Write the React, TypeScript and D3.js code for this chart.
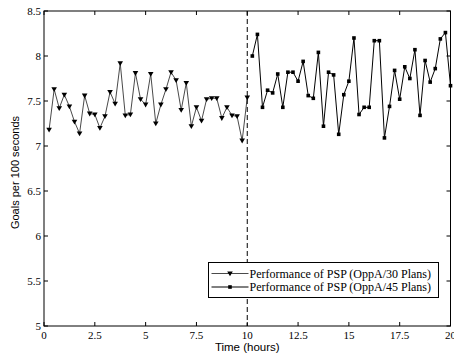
import React from "react";
import * as d3 from "d3";

const width = 454;
const height = 356;
const margin = { top: 11, right: 3, bottom: 30, left: 44 };

// Time axis (hours), one sample every quarter hour
const timesA = d3.range(1, 41).map(k => k * 0.25);
const timesB = d3.range(1, 41).map(k => 10 + k * 0.25);

// Goals per 100 seconds, OppA/30 Plans
const goals30 = [
  7.18, 7.63, 7.42, 7.57, 7.44, 7.27, 7.14, 7.56, 7.36, 7.35,
  7.2, 7.33, 7.6, 7.47, 7.92, 7.34, 7.35, 7.81, 7.52, 7.46,
  7.8, 7.25, 7.46, 7.63, 7.82, 7.73, 7.4, 7.7, 7.22, 7.43,
  7.28, 7.52, 7.53, 7.53, 7.31, 7.43, 7.34, 7.33, 7.06, 7.54
];

// Goals per 100 seconds, OppA/45 Plans
const goals45 = [
  8.0, 8.24, 7.43, 7.62, 7.59, 7.8, 7.43, 7.82, 7.82, 7.72,
  7.94, 7.56, 7.53, 8.04, 7.22, 7.82, 7.79, 7.13, 7.57, 7.72,
  8.2, 7.35, 7.43, 7.43, 8.17, 8.17, 7.09, 7.44, 7.84, 7.52,
  7.88, 7.75, 8.07, 7.34, 7.95, 7.71, 7.86, 8.19, 8.26, 7.67
];

const xTicks = [0, 2.5, 5, 7.5, 10, 12.5, 15, 17.5, 20];
const yTicks = [5, 5.5, 6, 6.5, 7, 7.5, 8, 8.5];
const legendLabels = [
  "Performance of PSP (OppA/30 Plans)",
  "Performance of PSP (OppA/45 Plans)"
];
const switchTime = 10;

const serif = "'Liberation Serif', 'Times New Roman', serif";
const sans = "'Liberation Sans', Arial, sans-serif";

export default function App() {
  const x = d3.scaleLinear().domain([0, 20]).range([margin.left, width - margin.right - 0.5]);
  const y = d3.scaleLinear().domain([5, 8.5]).range([height - margin.bottom, margin.top]);

  const line = d3
    .line<[number, number]>()
    .x(d => x(d[0]))
    .y(d => y(d[1]));

  const ptsA: [number, number][] = timesA.map((t, i) => [t, goals30[i]]);
  const ptsB: [number, number][] = timesB.map((t, i) => [t, goals45[i]]);

  const x0 = x(0);
  const x1 = x(20);
  const y0 = y(5);
  const y1 = y(8.5);
  const tick = 4;

  const tri = (cx: number, cy: number) =>
    `M${cx - 2.8},${cy - 2} L${cx + 2.8},${cy - 2} L${cx},${cy + 2.8} Z`;

  const lx = 208.5;
  const ly = 262.5;
  const lw = 230;
  const lh = 35;

  return (
    <div style={{ position: "absolute", left: 0, top: 0 }}>
      <svg width={width} height={height} style={{ display: "block", background: "#fff" }}>
        {/* series A */}
        <path d={line(ptsA) || ""} fill="none" stroke="#4a4a4a" strokeWidth={1} />
        {ptsA.map((p, i) => (
          <path key={"a" + i} d={tri(x(p[0]), y(p[1]))} fill="#000" />
        ))}

        {/* series B */}
        <path d={line(ptsB) || ""} fill="none" stroke="#000" strokeWidth={1} />
        {ptsB.map((p, i) => (
          <rect key={"b" + i} x={x(p[0]) - 1.8} y={y(p[1]) - 1.8} width={3.6} height={3.6} fill="#000" />
        ))}

        {/* switch marker */}
        <line
          x1={x(switchTime)}
          x2={x(switchTime)}
          y1={y1}
          y2={y0}
          stroke="#000"
          strokeWidth={1}
          strokeDasharray="5,3"
        />

        {/* box */}
        <rect x={x0} y={y1} width={x1 - x0} height={y0 - y1} fill="none" stroke="#000" strokeWidth={1} />

        {/* ticks */}
        {xTicks.map(t => (
          <g key={"xt" + t}>
            <line x1={x(t)} x2={x(t)} y1={y0} y2={y0 - tick} stroke="#000" />
            <line x1={x(t)} x2={x(t)} y1={y1} y2={y1 + tick} stroke="#000" />
            <text x={x(t)} y={y0 + 13} textAnchor="middle" fontFamily={serif} fontSize={11}>
              {t}
            </text>
          </g>
        ))}
        {yTicks.map(t => (
          <g key={"yt" + t}>
            <line x1={x0} x2={x0 + tick} y1={y(t)} y2={y(t)} stroke="#000" />
            <line x1={x1} x2={x1 - tick} y1={y(t)} y2={y(t)} stroke="#000" />
            <text x={x0 - 3} y={y(t) + 3.5} textAnchor="end" fontFamily={serif} fontSize={11}>
              {t}
            </text>
          </g>
        ))}

        {/* axis labels */}
        <text x={x(10)} y={351} textAnchor="middle" fontFamily={sans} fontSize={11.5}>
          Time (hours)
        </text>
        <text
          transform={`translate(19, ${(y0 + y1) / 2 + 4}) rotate(-90)`}
          textAnchor="middle"
          fontFamily={sans}
          fontSize={11}
        >
          Goals per 100 seconds
        </text>

        {/* legend */}
        <rect x={lx} y={ly} width={lw} height={lh} fill="#fff" stroke="#000" strokeWidth={1} />
        {legendLabels.map((lab, i) => {
          const ry = ly + 11 + i * 13.5;
          return (
            <g key={"lg" + i}>
              <line x1={lx + 3} x2={lx + 40} y1={ry} y2={ry} stroke={i === 0 ? "#4a4a4a" : "#000"} />
              {i === 0 ? (
                <path d={tri(lx + 21.5, ry)} fill="#000" />
              ) : (
                <rect x={lx + 21.5 - 1.8} y={ry - 1.8} width={3.6} height={3.6} fill="#000" />
              )}
              <text x={lx + 41} y={ry + 4} fontFamily={serif} fontSize={12}>
                {lab}
              </text>
            </g>
          );
        })}
      </svg>
    </div>
  );
}
